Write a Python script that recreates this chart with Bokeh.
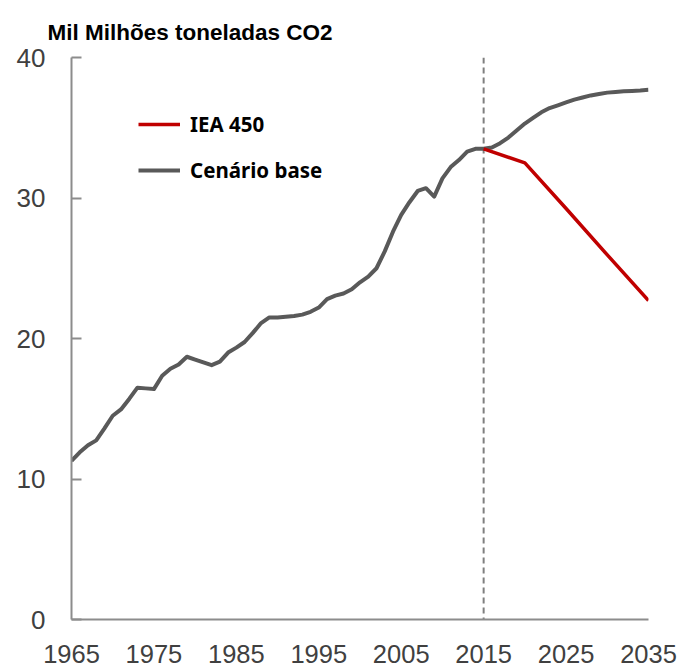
from bokeh.plotting import figure
from bokeh.models import (Range1d, FixedTicker, Span, Legend, LegendItem)
from bokeh.embed import file_html
from bokeh.resources import INLINE

# ---- data ----
years_hist = list(range(1965, 2016))
co2_hist = [11.3, 11.9, 12.4, 12.75, 13.6, 14.5, 14.95, 15.7, 16.5, 16.45,
            16.4, 17.35, 17.85, 18.15, 18.7, 18.5, 18.3, 18.1, 18.35, 19.0,
            19.35, 19.75, 20.4, 21.1, 21.5, 21.5, 21.55, 21.6, 21.7, 21.9,
            22.2, 22.8, 23.05, 23.2, 23.5, 24.0, 24.4, 25.0, 26.2, 27.6,
            28.8, 29.7, 30.5, 30.7, 30.1, 31.4, 32.2, 32.7, 33.3, 33.5,
            33.5]
years_base = list(range(2016, 2036))
co2_base = [33.6, 33.9, 34.3, 34.8, 35.3, 35.7, 36.1, 36.4, 36.6, 36.8,
            37.0, 37.15, 37.3, 37.4, 37.5, 37.55, 37.6, 37.62, 37.65, 37.7]
years_iea = [2015, 2020, 2025, 2030, 2035]
co2_iea = [33.5, 32.5, 29.25, 25.95, 22.7]

x_ticks = [1965, 1975, 1985, 1995, 2005, 2015, 2025, 2035]
x_tick_labels = ["1965", "1975", "1985", "1995", "2005", "2015", "2025", "2035"]
y_ticks = [0, 10, 20, 30, 40]
marker_year = 2015

title_text = "Mil Milhões toneladas CO2"
series_names = ["IEA 450", "Cenário base"]

# ---- figure ----
p = figure(width=681, height=671, output_backend="svg", toolbar_location=None,
           x_range=Range1d(1965, 2035), y_range=Range1d(0, 40),
           min_border_left=71, min_border_right=33, min_border_top=57,
           min_border_bottom=52)
p.outline_line_color = None
p.xgrid.visible = False
p.ygrid.visible = False
p.background_fill_color = "white"
p.border_fill_color = "white"

p.title.text = title_text
p.title.align = "left"
p.title.offset = -24
p.title.standoff = 26
p.title.text_font = "Liberation Sans"
p.title.text_font_style = "bold"
p.title.text_font_size = "22.5px"
p.title.text_color = "#000000"

axis_color = "#8c8c8c"
label_color = "#404040"

xa = p.xaxis[0]
xa.ticker = FixedTicker(ticks=x_ticks)
xa.major_label_overrides = {t: l for t, l in zip(x_ticks, x_tick_labels)}
xa.major_tick_in = 0
xa.major_tick_out = 0
xa.minor_tick_in = 0
xa.minor_tick_out = 0
xa.axis_line_color = axis_color
xa.axis_line_width = 2
xa.major_label_text_font = "Liberation Sans"
xa.major_label_text_font_size = "25.5px"
xa.major_label_text_color = label_color
xa.major_label_standoff = 25

ya = p.yaxis[0]
ya.ticker = FixedTicker(ticks=y_ticks)
ya.major_tick_in = 10
ya.major_tick_out = 0
ya.minor_tick_in = 0
ya.minor_tick_out = 0
ya.major_tick_line_color = axis_color
ya.major_tick_line_width = 2
ya.axis_line_color = axis_color
ya.axis_line_width = 2
ya.major_label_text_font = "Liberation Sans"
ya.major_label_text_font_size = "26px"
ya.major_label_text_color = label_color
ya.major_label_standoff = 26

span = Span(location=marker_year, dimension="height", line_color="#7f7f7f",
            line_width=2, line_dash="6 4", level="underlay")
p.add_layout(span)

r_gray = p.line(years_hist + years_base, co2_hist + co2_base,
                line_color="#595959", line_width=4, line_join="round")
r_red = p.line(years_iea, co2_iea, line_color="#c00000", line_width=3.5,
               line_join="round")

legend = Legend(items=[LegendItem(label=series_names[0], renderers=[r_red]),
                       LegendItem(label=series_names[1], renderers=[r_gray])],
                location=(67, 435), glyph_width=42, glyph_height=20,
                label_height=20, spacing=18, padding=0, margin=0,
                border_line_color=None, background_fill_alpha=0,
                label_standoff=10, label_text_font="Noto Sans",
                label_text_font_style="bold", label_text_font_size="20.5px",
                label_text_color="black")
p.add_layout(legend)

open("out.html", "w").write(file_html(p, INLINE))
